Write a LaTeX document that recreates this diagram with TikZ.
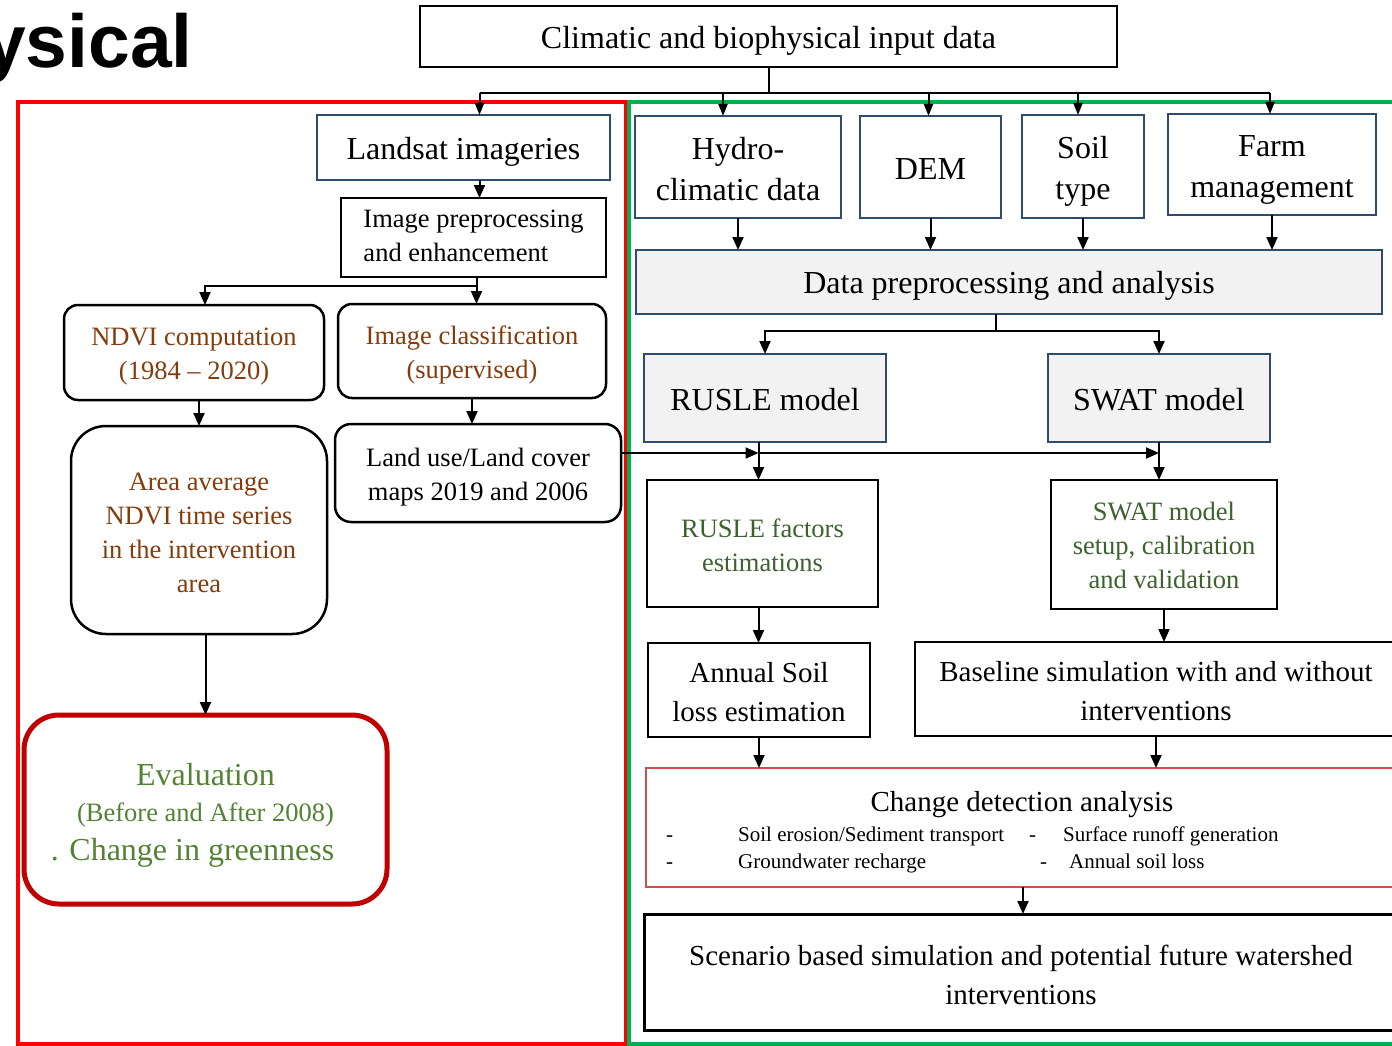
\documentclass[tikz,border=0pt]{standalone}
\usepackage{fontspec}
\setmainfont{Liberation Serif}
\newfontfamily\headfont{Liberation Sans}
\usetikzlibrary{arrows.meta,calc}
\definecolor{bbox}{HTML}{2F4B6E}
\definecolor{brn}{HTML}{843C0C}
\definecolor{dgreen}{HTML}{3E6130}
\definecolor{mgreen}{HTML}{548235}
\definecolor{frred}{HTML}{FF0000}
\definecolor{frgreen}{HTML}{00B050}
\definecolor{evred}{HTML}{C00000}
\definecolor{cdred}{HTML}{C9504D}
\definecolor{lgray}{HTML}{F2F2F2}
\newcommand\mystrut[1]{\rule{0pt}{#1}}
\tikzset{
  box/.style={draw=black, line width=2.5pt, inner sep=0pt, outer sep=0pt, anchor=north west, align=center},
  bluebox/.style={box, draw=bbox, line width=2.2pt},
  graybox/.style={bluebox, fill=lgray},
  rbox/.style={box, rounded corners=14pt},
  arr/.style={line width=2pt, -{Triangle[length=13pt,width=11pt]}},
  arrs/.style={line width=2pt, -{Triangle[length=12pt,width=9pt]}},
  ln/.style={line width=2pt},
  fA/.style={font=\fontsize{32}{41}\selectfont},
  fB/.style={font=\fontsize{26.5}{34}\selectfont},
  fC/.style={font=\fontsize{29}{38.5}\selectfont},
  fD/.style={font=\fontsize{21}{27}\selectfont},
  dn/.style={execute at begin node={\rule{0pt}{#1}}},
}
\begin{document}
\begin{tikzpicture}[x=1pt,y=-1pt]
\useasboundingbox (0,0) rectangle (1392,1046);
% partial title
\node[font=\fontsize{75}{75}\selectfont\headfont\bfseries, anchor=base east, inner sep=0pt] (ttl) at (193,68) {ysical};
% frames
\draw[frred, line width=4pt] (18,102) rectangle (626,1044);
\draw[frgreen, line width=4pt] (629,102) rectangle (1402,1044);
% nodes
\node[box, fA, dn=0.94em, minimum width=697pt, minimum height=61pt] (top) at (420,6) {Climatic and biophysical input data};
\node[bluebox, fA, dn=0.94em, minimum width=293pt, minimum height=65pt] (landsat) at (317,115) {Landsat imageries};
\node[box, fB, align=left, minimum width=265pt, minimum height=79pt] (imgpre) at (341,198) {Image preprocessing\\and enhancement\rule[-4pt]{0pt}{4pt}};
\node[rbox, fB, text=brn, minimum width=260pt, minimum height=95pt] (ndvi) at (64,305) {\mystrut{0.99em}NDVI computation\\(1984 -- 2020)};
\node[rbox, fB, text=brn, minimum width=268pt, minimum height=94pt] (imgcls) at (338,304) {\mystrut{0.99em}Image classification\\(supervised)};
\node[box, rounded corners=35pt, fB, text=brn, minimum width=256pt, minimum height=208pt] (area) at (71,426) {\mystrut{0.87em}Area average\\NDVI time series\\in the intervention\\area};
\node[rbox, rounded corners=16pt, fB, minimum width=286pt, minimum height=98pt] (lulc) at (335,424) {\mystrut{0.99em}Land use/Land cover\\maps 2019 and 2006};
\node[box, draw=evred, line width=5pt, rounded corners=35pt, minimum width=363pt, minimum height=189pt] (eval) at (24,715) {};
\node[fA, text=mgreen, anchor=base, inner sep=0pt] (ev1) at (205.5,785) {Evaluation};
\node[fB, text=mgreen, anchor=base, inner sep=0pt] (ev2) at (205.5,821) {(Before and After 2008)};
\node[fA, text=mgreen, anchor=base, inner sep=0pt] (ev3) at (192.5,860) {. Change in greenness};

\node[bluebox, fA, minimum width=206pt, minimum height=102pt] (hydro) at (635,116) {\mystrut{0.81em}Hydro-\\climatic data};
\node[bluebox, fA, dn=0.8em, minimum width=141pt, minimum height=102pt] (dem) at (860,116) {DEM};
\node[bluebox, fA, minimum width=122pt, minimum height=103pt] (soil) at (1022,115) {\mystrut{0.97em}Soil\\type};
\node[bluebox, fA, minimum width=208pt, minimum height=101pt] (farm) at (1168,114) {\mystrut{0.97em}Farm\\management};
\node[graybox, fA, dn=0.94em, minimum width=746pt, minimum height=64pt] (dp) at (636,250) {Data preprocessing and analysis};
\node[graybox, fA, dn=0.81em, minimum width=242pt, minimum height=88pt] (rmodel) at (644,354) {RUSLE model};
\node[graybox, fA, dn=0.81em, minimum width=222pt, minimum height=88pt] (smodel) at (1048,354) {SWAT model};
\node[box, fB, text=dgreen, minimum width=231pt, minimum height=127pt] (rfac) at (647,480) {\mystrut{0.83em}RUSLE factors\\estimations};
\node[box, fB, text=dgreen, minimum width=226pt, minimum height=129pt] (sset) at (1051,480) {\mystrut{0.8em}SWAT model\\setup, calibration\\and validation};
\node[box, fC, minimum width=222pt, minimum height=94pt] (annual) at (648,643) {\mystrut{0.82em}Annual Soil\\loss estimation};
\node[box, fC, minimum width=482pt, minimum height=94pt] (base) at (915,642) {\mystrut{0.82em}Baseline simulation with and without\\interventions};
\node[box, draw=cdred, line width=2pt, minimum width=754pt, minimum height=119pt] (change) at (646,768) {};
\node[fC, anchor=base, inner sep=0pt] (cdt) at (1022,811) {Change detection analysis};
\node[fD, anchor=base west, inner sep=0pt] (d1) at (666,841) {-};
\node[fD, anchor=base west, inner sep=0pt] (i1) at (738,841) {Soil erosion/Sediment transport};
\node[fD, anchor=base west, inner sep=0pt] (d2) at (1029,841) {-};
\node[fD, anchor=base west, inner sep=0pt] (i2) at (1063,841) {Surface runoff generation};
\node[fD, anchor=base west, inner sep=0pt] (d3) at (666,868) {-};
\node[fD, anchor=base west, inner sep=0pt] (i3) at (738,868) {Groundwater recharge};
\node[fD, anchor=base west, inner sep=0pt] (d4) at (1040,868) {-};
\node[fD, anchor=base west, inner sep=0pt] (i4) at (1069,868) {Annual soil loss};
\node[box, line width=3pt, fC, minimum width=754pt, minimum height=116pt] (scen) at (644,914) {\mystrut{0.89em}Scenario based simulation and potential future watershed\\interventions};

% top bus
\draw[ln] (top.south) -- ++(0,26) coordinate (bus);
\coordinate (cL) at ([xshift=16pt]landsat.north);
\coordinate (cH) at ([xshift=-15pt]hydro.north);
\coordinate (cD) at ([xshift=-2pt]dem.north);
\coordinate (cS) at ([xshift=-5pt]soil.north);
\coordinate (cF) at ([xshift=-2pt]farm.north);
\draw[ln] (bus -| cL) -- (bus -| cF);
\foreach \c in {cL,cH,cD,cS,cF} \draw[arrs] (bus -| \c) -- (\c);
% left column
\coordinate (c1) at ([xshift=16pt]landsat.south);
\draw[arr] (c1) -- (c1 |- imgpre.north);
\coordinate (c1b) at ([xshift=3pt]imgpre.south);
\draw[ln] (c1b) -- ++(0,9) coordinate (b2);
\coordinate (c2) at ([xshift=11pt]ndvi.north);
\draw[arr] (b2) -| (c2);
\draw[arr] (b2) -- (b2 |- imgcls.north);
\draw[arr] (area.north |- ndvi.south) -- (area.north);
\draw[arr] (imgcls.south) -- (imgcls.south |- lulc.north);
\draw[arr] (eval.north |- area.south) -- (eval.north);
% right column
\foreach \n in {hydro,dem,soil,farm} \draw[arr] (\n.south) -- (\n.south |- dp.north);
\coordinate (c4) at ([xshift=-13pt]dp.south);
\draw[ln] (c4) -- ++(0,17) coordinate (b4);
\draw[arr] (b4) -| (rmodel.north);
\draw[arr] (b4) -| (smodel.north);
\coordinate (c3) at ([yshift=20pt]lulc.east);
\coordinate (xr) at ([xshift=-4pt]rfac.north);
\draw[arr] (c3) -- (c3 -| xr);
\draw[arr] (c3 -| xr) -- (c3 -| smodel.south);
\draw[arr] (xr |- rmodel.south) -- (xr);
\draw[arr] (smodel.south) -- (smodel.south |- sset.north);
\draw[arr] (xr |- rfac.south) -- (xr |- annual.north);
\draw[arr] (sset.south) -- (sset.south |- base.north);
\draw[arr] (annual.south) -- (annual.south |- change.north);
\draw[arr] (base.south) -- (base.south |- change.north);
\draw[arr] (change.south) -- (change.south |- scen.north);
\end{tikzpicture}
\end{document}
